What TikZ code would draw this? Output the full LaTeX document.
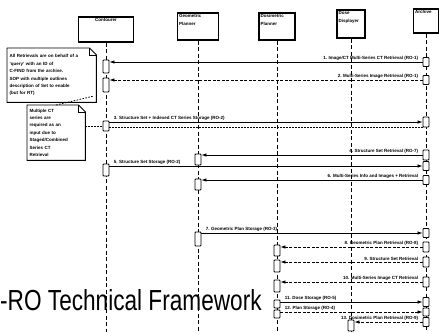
\documentclass[tikz,border=0pt]{standalone}
\usepackage{fontspec}
\setmainfont{Liberation Sans}
\usetikzlibrary{arrows.meta}
\newcommand{\tinyfont}{\fontsize{4.5}{7.4}\selectfont\bfseries}

\begin{document}
\begin{tikzpicture}[x=1pt, y=-1pt,
  head/.style={draw, line width=1.1pt, inner sep=0pt},
  act/.style={draw, fill=white, line width=0.9pt, minimum width=6pt, inner sep=0pt, rounded corners=0.8pt},
  lifeline/.style={line width=0.8pt, dash pattern=on 4pt off 2.5pt},
  msg/.style={line width=0.7pt, -{Latex[length=5pt, width=3.5pt]}},
  reply/.style={msg, dash pattern=on 3pt off 1.5pt},
  tie/.style={line width=0.8pt, dash pattern=on 1.5pt off 1.5pt},
  lbl/.style={font=\tinyfont, inner sep=1pt},
  lblr/.style={lbl, pos=0, above left, xshift=-3pt},
  lbll/.style={lbl, pos=0, above right, xshift=3pt},
  notebox/.style={font=\tinyfont, align=left, inner sep=2.5pt, anchor=north west}
]
\useasboundingbox (0,0) rectangle (439,332);
\coordinate (bottom) at (0,332);

% actors
\node[head, minimum width=55pt, minimum height=25pt, label={[lbl, anchor=north, inner sep=2pt]north:Contourer}] (contourer) at (106,29.5) {};
\node[head, minimum width=41pt, minimum height=27pt, label={[lbl, anchor=north west, align=left, inner sep=2pt]north west:{Geometric\\Planner}}] (geo_planner) at (198,26.5) {};
\node[head, minimum width=36pt, minimum height=27pt, label={[lbl, anchor=north west, align=left, inner sep=2pt]north west:{Dosimetric\\Planner}}] (dos_planner) at (277,26.5) {};
\node[head, minimum width=28pt, minimum height=28pt, label={[lbl, anchor=north west, align=left, inner sep=2pt]north west:{Dose\\Displayer}}] (dose_disp) at (351,24) {};
\node[head, minimum width=25pt, minimum height=24pt, label={[lbl, anchor=north west, inner sep=2pt]north west:Archive}] (archive) at (426,21) {};

% lifelines
\draw[lifeline] (contourer.south) -- (contourer.south |- bottom);
\draw[lifeline] (geo_planner.south) -- (geo_planner.south |- bottom);
\draw[lifeline] (dos_planner.south) -- (dos_planner.south |- bottom);
\draw[lifeline] (dose_disp.south) -- (dose_disp.south |- bottom);
\draw[lifeline] (archive.south) -- (archive.south |- bottom);

\node[anchor=base west, inner sep=0pt] (framework_title) at (0,310) {\scalebox{0.78}[1]{\fontsize{29}{29}\selectfont -RO Technical Framework}};

% activations
\node[act, minimum height=13pt] (c_act1) at (106,66.5) {};
\node[act, minimum height=14pt] (c_act2) at (106,85) {};
\node[act, minimum height=10pt] (c_act3) at (106,126) {};
\node[act, minimum height=12pt] (c_act4) at (106,170) {};

\node[act, minimum height=11pt] (g_act1) at (198,159.5) {};
\node[act, minimum height=11pt] (g_act2) at (198,184.5) {};
\node[act, minimum height=14pt] (g_act3) at (198,239) {};

\node[act, minimum height=11pt] (d_act1) at (277,250.5) {};
\node[act, minimum height=12pt] (d_act2) at (277,266) {};
\node[act, minimum height=12pt] (d_act3) at (277,286) {};
\node[act, minimum height=8pt] (d_act4) at (277,304) {};
\node[act, minimum height=8pt] (d_act5) at (277,314) {};

\node[act, minimum height=11pt] (v_act1) at (351,325.5) {};

\node[act, minimum height=9pt] (a_act1) at (426,62) {};
\node[act, minimum height=9pt] (a_act2) at (426,80) {};
\node[act, minimum height=10pt] (a_act3) at (426,122) {};
\node[act, minimum height=10pt] (a_act4) at (426,155) {};
\node[act, minimum height=9pt] (a_act5) at (426,166) {};
\node[act, minimum height=9pt] (a_act6) at (426,180) {};
\node[act, minimum height=9pt] (a_act7) at (426,233) {};
\node[act, minimum height=10pt] (a_act8) at (426,247) {};
\node[act, minimum height=10pt] (a_act9) at (426,262) {};
\node[act, minimum height=10pt] (a_act10) at (426,282) {};
\node[act, minimum height=9pt] (a_act11) at (426,302) {};
\node[act, minimum height=8pt] (a_act12) at (426,312) {};
\node[act, minimum height=9pt] (a_act13) at (426,322) {};

% messages
\draw[msg] (a_act1.west) -- (a_act1.west -| c_act1.east) node[lblr] {1. Image/CT Multi-Series CT Retrieval (RO-1)};
\draw[reply] (a_act2.west) -- (a_act2.west -| c_act2.east) node[lblr] {2. Multi-Series Image Retrieval (RO-1)};
\draw[msg] (a_act3.west -| c_act3.east) -- (a_act3.west) node[lbll] {3. Structure Set + Indexed CT Series Storage (RO-2)};
\draw[tie] (a_act3.south west) -- (a_act3.south west -| c_act3.east);
\draw[msg] (a_act4.west) -- (a_act4.west -| g_act1.east) node[lblr] {4. Structure Set Retrieval (RO-7)};
\draw[msg] (a_act5.west -| c_act4.east) -- (a_act5.west) node[lbll] {5. Structure Set Storage (RO-2)};
\draw[msg] (a_act6.west) -- (a_act6.west -| g_act2.east) node[lblr] {6. Multi-Series Info and Images + Retrieval};
\draw[msg] (a_act7.west -| g_act3.east) -- (a_act7.west) node[lbll] {7. Geometric Plan Storage (RO-3)};
\draw[reply] (a_act8.west) -- (a_act8.west -| d_act1.east) node[lblr] {8. Geometric Plan Retrieval (RO-8)};
\draw[reply] (a_act9.west) -- (a_act9.west -| d_act2.east) node[lblr] {9. Structure Set Retrieval};
\draw[reply] (a_act10.west) -- (a_act10.west -| d_act3.east) node[lblr] {10. Multi-Series Image CT Retrieval};
\draw[msg] (a_act11.west -| d_act4.east) -- (a_act11.west) node[lbll] {11. Dose Storage (RO-5)};
\draw[reply] (a_act12.west -| d_act5.east) -- (a_act12.west) node[lbll] {12. Plan Storage (RO-4)};
\draw[reply] (a_act13.west) -- (a_act13.west -| v_act1.east) node[lblr] {13. Dosimetric Plan Retrieval (RO-9)};

% notes
\node[notebox, text width=84pt, minimum height=54pt] (note_query) at (7,48) {All Retrievals are on behalf of a\\`query' with an ID of\\C-FIND from the archive.\\SOP with multiple outlines\\description of Set to enable\\(but for RT)};
\draw[line width=0.9pt] (note_query.north west) -- ([xshift=-7pt]note_query.north east) -- ([yshift=-7pt]note_query.north east) -- (note_query.south east) -- (note_query.south west) -- cycle;
\draw[line width=0.7pt] ([xshift=-7pt]note_query.north east) |- ([yshift=-7pt]note_query.north east);

\node[notebox, text width=53pt, minimum height=55pt] (note_series) at (27,105) {Multiple CT\\series are\\required as an\\input due to\\Staged/Combined\\Series CT\\Retrieval};
\draw[line width=0.9pt] (note_series.north west) -- ([xshift=-7pt]note_series.north east) -- ([yshift=-7pt]note_series.north east) -- (note_series.south east) -- (note_series.south west) -- cycle;
\draw[line width=0.7pt] ([xshift=-7pt]note_series.north east) |- ([yshift=-7pt]note_series.north east);

\coordinate (query_tie) at (94,96);
\draw[tie] (note_series.north) -- (query_tie);
\draw[tie] (note_series.east |- c_act3.west) -- (c_act3.west);
\end{tikzpicture}
\end{document}
